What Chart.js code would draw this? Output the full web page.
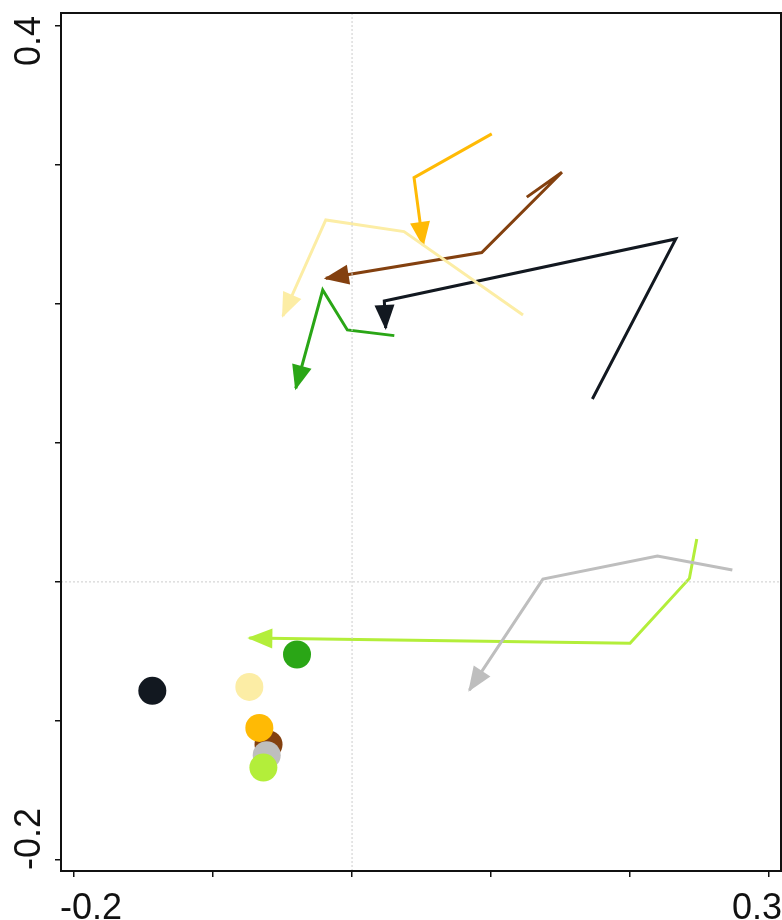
<!DOCTYPE html>
<html>
<head>
<meta charset="utf-8">
<script src="https://cdn.jsdelivr.net/npm/chart.js@4"></script>
<style>
html,body{margin:0;padding:0;background:#fff;}
#wrap{width:782px;height:920px;}
</style>
</head>
<body>
<div id="wrap"><canvas id="myChart" width="782" height="920"></canvas></div>
<script>
// axis range and ticks
var xMin = -0.2094, xMax = 0.3086;
var yMin = -0.2079, yMax = 0.4091;
var xTicks = [-0.2, -0.1, 0, 0.1, 0.2, 0.3];
var yTicks = [-0.2, -0.1, 0, 0.1, 0.2, 0.3, 0.4];
var xTickLabels = ["-0.2", "0.3"];
var yTickLabels = ["-0.2", "0.4"];

// trajectories (last point = arrow tip)
var paleX   = [0.1230, 0.0374, -0.0189, -0.0498];
var paleY   = [0.1919, 0.2519, 0.2603, 0.1912];
var orangeX = [0.1005, 0.0446, 0.0511];
var orangeY = [0.3222, 0.2907, 0.2423];
var brownX  = [0.1257, 0.1510, 0.0933, -0.0189];
var brownY  = [0.2767, 0.2946, 0.2368, 0.2183];
var blackX  = [0.1729, 0.2329, 0.0232, 0.0242];
var blackY  = [0.1315, 0.2466, 0.2020, 0.1826];
var greenX  = [0.0304, -0.0034, -0.0211, -0.0405];
var greenY  = [0.1771, 0.1812, 0.2099, 0.1392];
var grayX   = [0.2736, 0.2197, 0.1373, 0.0844];
var grayY   = [0.0085, 0.0186, 0.0020, -0.0778];
var limeX   = [0.2480, 0.2427, 0.2000, -0.0739];
var limeY   = [0.0308, 0.0025, -0.0442, -0.0404];

// end points
var dotX = [-0.1437, -0.0739, -0.0396, -0.0601, -0.0667, -0.0614, -0.0638];
var dotY = [-0.0783, -0.0755, -0.0522, -0.1169, -0.1050, -0.1246, -0.1335];
var dotColors = ["#121820", "#FCEDA5", "#2AA616", "#83400F", "#FFBA05", "#BEBEBE", "#B3EE3A"];

function pts(xs, ys){ return xs.map(function(x, i){ return {x: x, y: ys[i]}; }); }

function path(xs, ys, color, w){
  return {data: pts(xs, ys), showLine: true, borderColor: color, backgroundColor: color,
    borderWidth: w || 3, pointRadius: 0, tension: 0, arrow: true, clip: false};
}

// filled arrow head on the last segment of each path
var arrowHeads = {
  id: 'arrowHeads',
  afterDatasetDraw: function(chart, args){
    var ds = chart.data.datasets[args.index];
    if(!ds.arrow) return;
    var p = args.meta.data, n = p.length;
    var a = p[n-2], b = p[n-1];
    var ang = Math.atan2(b.y - a.y, b.x - a.x);
    var ctx = chart.ctx;
    ctx.save();
    ctx.translate(b.x, b.y);
    ctx.rotate(ang);
    ctx.beginPath();
    ctx.moveTo(2, 0);
    ctx.lineTo(-23, -10);
    ctx.lineTo(-23, 10);
    ctx.closePath();
    ctx.fillStyle = ds.borderColor;
    ctx.fill();
    ctx.restore();
  }
};

var frame = {
  id: 'frame',
  afterDraw: function(chart){
    var c = chart.ctx, a = chart.chartArea;
    c.save();
    c.strokeStyle = "#111";
    c.lineWidth = 2;
    c.strokeRect(a.left, a.top, a.right - a.left, a.bottom - a.top);
    c.fillStyle = "#111";
    c.font = '36px "Liberation Sans", Arial, sans-serif';
    c.textBaseline = "alphabetic";
    c.textAlign = "left";
    c.fillText(xTickLabels[0], a.left - 1, 919);
    c.textAlign = "right";
    c.fillText(xTickLabels[1], a.right + 1, 919);
    c.translate(40, 0);
    c.rotate(-Math.PI / 2);
    c.textAlign = "left";
    c.fillText(yTickLabels[0], -(a.bottom - 1), 0);
    c.textAlign = "right";
    c.fillText(yTickLabels[1], -(a.top + 3), 0);
    c.restore();
  }
};

var charts = document.querySelector("#myChart").getContext('2d');
new Chart(charts, {
  type: 'scatter',
  data: {
    datasets: [
      {data: [{x: 0, y: yMin}, {x: 0, y: yMax}], showLine: true, borderColor: '#cccccc', borderWidth: 1, borderDash: [2, 2], pointRadius: 0},
      {data: [{x: xMin, y: 0}, {x: xMax, y: 0}], showLine: true, borderColor: '#cccccc', borderWidth: 1, borderDash: [2, 2], pointRadius: 0},
      path(paleX, paleY, dotColors[1]),
      path(orangeX, orangeY, dotColors[4]),
      path(brownX, brownY, dotColors[3]),
      path(blackX, blackY, dotColors[0]),
      path(greenX, greenY, dotColors[2]),
      path(grayX, grayY, dotColors[5]),
      path(limeX, limeY, dotColors[6]),
      {data: pts(dotX, dotY), pointRadius: 14, pointBackgroundColor: dotColors, pointBorderWidth: 0, pointHoverRadius: 14, clip: false}
    ]
  },
  options: {
    responsive: false,
    animation: false,
    devicePixelRatio: 1,
    layout: {autoPadding: false, padding: {left: 55, top: 13, right: 1, bottom: 43}},
    plugins: {legend: {display: false}, tooltip: {enabled: false}},
    scales: {
      x: {
        type: 'linear', position: 'bottom', min: xMin, max: xMax,
        afterBuildTicks: function(s){ s.ticks = xTicks.map(function(v){ return {value: v}; }); },
        ticks: {display: false},
        grid: {display: true, drawOnChartArea: false, drawTicks: true, tickLength: 6, color: '#111', lineWidth: 1.5},
        border: {display: true, color: '#111', width: 2}
      },
      y: {
        type: 'linear', position: 'left', min: yMin, max: yMax,
        afterBuildTicks: function(s){ s.ticks = yTicks.map(function(v){ return {value: v}; }); },
        ticks: {display: false},
        grid: {display: true, drawOnChartArea: false, drawTicks: true, tickLength: 6, color: '#111', lineWidth: 1.5},
        border: {display: true, color: '#111', width: 2}
      }
    }
  },
  plugins: [arrowHeads, frame]
});
</script>
</body>
</html>
